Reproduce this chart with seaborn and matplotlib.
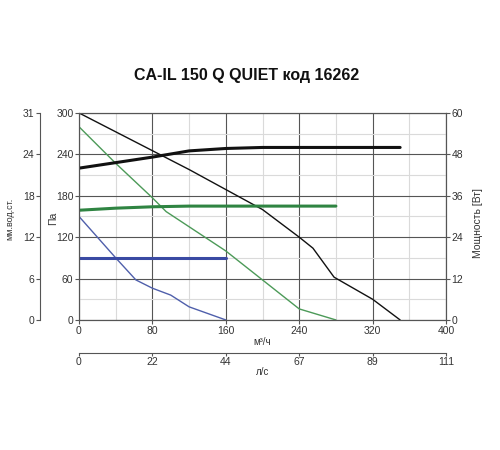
import numpy as np
import pandas as pd
import seaborn as sns
import matplotlib.pyplot as plt

# curves (flow in m3/h, pressure in Pa, power in W)
black_q = [0, 120, 200, 240, 255, 278, 320, 350]
black_pa = [300, 218, 160, 120, 104, 62, 30, 0]
green_q = [0, 40, 80, 95, 160, 240, 280]
green_pa = [280, 227, 177, 157, 100, 16, 0]
blue_q = [0, 40, 62, 80, 100, 120, 160]
blue_pa = [150, 90, 58, 46, 36, 19, 0]

black_pw_q = [0, 40, 80, 120, 160, 200, 350]
black_pw = [44, 45.6, 47.2, 49, 49.7, 50, 50]
green_pw_q = [0, 40, 80, 120, 280]
green_pw = [31.8, 32.4, 32.8, 33, 33]
blue_pw_q = [0, 160]
blue_pw = [18, 18]

pa_ticks = [0, 60, 120, 180, 240, 300]
mm_labels = ['0', '6', '12', '18', '24', '31']
w_ticks = [0, 12, 24, 36, 48, 60]
q_ticks = [0, 80, 160, 240, 320, 400]
ls_labels = ['0', '22', '44', '67', '89', '111']

sns.set_style("white")
plt.rcParams['font.family'] = ['Liberation Sans', 'DejaVu Sans']

tc = '#333333'
black = '#111111'
green_thin, green_thick = '#4c9a58', '#2f8442'
blue_thin, blue_thick = '#4f5fab', '#3a4aa3'

fig = plt.figure(figsize=(5, 4.5), dpi=100)
ax = fig.add_axes([0.158, 0.289, 0.734, 0.460])

def draw(a, q, v, color, lw):
    df = pd.DataFrame({'q': q, 'v': v})
    sns.lineplot(data=df, x='q', y='v', ax=a, color=color, linewidth=lw, sort=False)

draw(ax, black_q, black_pa, black, 1.0)
draw(ax, green_q, green_pa, green_thin, 1.0)
draw(ax, blue_q, blue_pa, blue_thin, 1.0)

ax.set_xlim(0, 400)
ax.set_ylim(0, 300)
ax.set_xticks(q_ticks)
ax.set_yticks(pa_ticks)
ax.set_xticks(np.arange(40, 400, 80), minor=True)
ax.set_yticks(np.arange(30, 300, 60), minor=True)
ax.grid(which='major', color='#555555', linewidth=0.8)
ax.grid(which='minor', color='#dadada', linewidth=0.8)
ax.set_axisbelow(True)
ax.tick_params(which='major', direction='out', length=3, color='#555555',
               labelsize=7.5, labelcolor=tc, pad=1, left=True, bottom=True)
ax.tick_params(which='minor', length=0)
for s in ax.spines.values():
    s.set_color('#555555')
    s.set_linewidth(0.8)
ax.set_xlabel('м³/ч', fontsize=7, color=tc, labelpad=1)
ax.set_ylabel('Па', fontsize=7.5, color=tc)
ax.yaxis.set_label_coords(-0.057, 0.49)

# power axis on the right
ax2 = ax.twinx()
draw(ax2, black_pw_q, black_pw, black, 2.2)
draw(ax2, green_pw_q, green_pw, green_thick, 2.2)
draw(ax2, blue_pw_q, blue_pw, blue_thick, 2.2)
ax2.set_ylim(0, 60)
ax2.set_yticks(w_ticks)
ax2.tick_params(direction='out', length=3, color='#555555', labelsize=7.5,
                labelcolor=tc, pad=1, right=True)
for s in ax2.spines.values():
    s.set_color('#555555')
    s.set_linewidth(0.8)
ax2.set_ylabel('Мощность [Вт]', fontsize=7.5, color=tc)
ax2.yaxis.set_label_coords(1.074, 0.47)
ax2.grid(False)

# mm water column axis far left
ax3 = ax.twinx()
ax3.set_ylim(0, 300)
ax3.spines['left'].set_position(('axes', -0.106))
ax3.spines['left'].set_visible(True)
for k in ['right', 'top', 'bottom']:
    ax3.spines[k].set_visible(False)
ax3.spines['left'].set_color('#555555')
ax3.spines['left'].set_linewidth(0.8)
ax3.yaxis.set_ticks_position('left')
ax3.yaxis.set_label_position('left')
ax3.set_yticks(pa_ticks)
ax3.set_yticklabels(mm_labels)
ax3.tick_params(direction='out', length=3, color='#555555', labelsize=7.5,
                labelcolor=tc, pad=1, left=True)
ax3.set_ylabel('мм.вод.ст.', fontsize=6.5, color=tc)
ax3.yaxis.set_label_coords(-0.177, 0.49)
ax3.grid(False)

# l/s axis below
ax4 = ax.twiny()
ax4.set_xlim(0, 400)
ax4.xaxis.set_ticks_position('bottom')
ax4.xaxis.set_label_position('bottom')
ax4.spines['bottom'].set_position(('axes', -0.159))
ax4.spines['bottom'].set_visible(True)
for k in ['right', 'top', 'left']:
    ax4.spines[k].set_visible(False)
ax4.spines['bottom'].set_color('#555555')
ax4.spines['bottom'].set_linewidth(0.8)
ax4.set_xticks(q_ticks)
ax4.set_xticklabels(ls_labels)
ax4.tick_params(direction='out', length=2, color='#555555', labelsize=7.5,
                labelcolor=tc, pad=1, bottom=True)
ax4.set_xlabel('л/с', fontsize=7, color=tc, labelpad=0)
ax4.grid(False)

fig.text(0.494, 0.832, 'CA-IL 150 Q QUIET код 16262', ha='center', va='center',
         fontsize=11.5, fontweight='bold', color='#111111')

fig.savefig('out.png', dpi=100)
